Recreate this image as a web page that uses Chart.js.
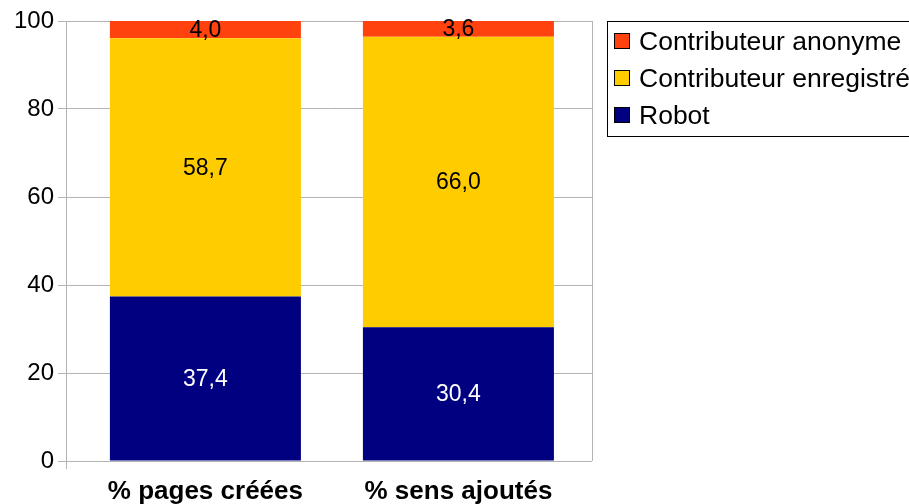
<!DOCTYPE html>
<html>
<head>
<meta charset="utf-8">
<script src="https://cdn.jsdelivr.net/npm/chart.js@4/dist/chart.umd.min.js"></script>
<style>
  html, body { margin: 0; padding: 0; background: #fff; }
  #wrap { width: 909px; height: 504px; position: relative; }
</style>
</head>
<body>
<div id="wrap"><canvas id="contribChart"></canvas></div>
<script>
const categories = ['% pages créées', '% sens ajoutés'];
const robot = [37.4, 30.4];
const enregistre = [58.7, 66.0];
const anonyme = [4.0, 3.6];
const yTicks = [0, 20, 40, 60, 80, 100];

const FONT = '"Liberation Sans", Arial, sans-serif';

// values written in the middle of each segment, french decimal comma
const segmentLabels = {
  id: 'segmentLabels',
  afterDatasetsDraw(chart) {
    const ctx = chart.ctx;
    ctx.save();
    ctx.font = '23px ' + FONT;
    ctx.textAlign = 'center';
    ctx.textBaseline = 'middle';
    chart.data.datasets.forEach((ds, i) => {
      chart.getDatasetMeta(i).data.forEach((bar, j) => {
        const top = Math.max(bar.y, chart.chartArea.top);
        const y = (top + bar.base) / 2;
        ctx.fillStyle = ds.labelColor;
        ctx.fillText(ds.data[j].toFixed(1).replace('.', ','), bar.x, y + 1);
      });
    });
    ctx.restore();
  }
};

// frame lines and the boxed legend on the right
const frameAndLegend = {
  id: 'frameAndLegend',
  afterDraw(chart) {
    const ctx = chart.ctx;
    const a = chart.chartArea;
    ctx.save();
    ctx.strokeStyle = '#b3b3b3';
    ctx.lineWidth = 1;
    ctx.beginPath();
    ctx.moveTo(Math.round(a.right) + 0.5, a.top);
    ctx.lineTo(Math.round(a.right) + 0.5, a.bottom);
    ctx.moveTo(Math.round(a.left) + 0.5, a.bottom);
    ctx.lineTo(Math.round(a.left) + 0.5, a.bottom + 8);
    ctx.stroke();

    // legend box
    ctx.strokeStyle = '#000';
    ctx.strokeRect(607.5, 21.5, 320, 115);
    const items = chart.data.datasets.slice().reverse();
    ctx.font = '26.5px ' + FONT;
    ctx.textBaseline = 'middle';
    ctx.textAlign = 'left';
    items.forEach((ds, k) => {
      const cy = 42 + k * 37;
      ctx.fillStyle = ds.backgroundColor;
      ctx.fillRect(614.5, cy - 8.5, 15, 15);
      ctx.strokeStyle = '#000';
      ctx.strokeRect(614.5, cy - 8.5, 15, 15);
      ctx.fillStyle = '#000';
      ctx.fillText(ds.label, 639, cy + 1);
    });
    ctx.restore();
  }
};

new Chart(document.getElementById('contribChart'), {
  type: 'bar',
  data: {
    labels: categories,
    datasets: [
      { label: 'Robot', data: robot, backgroundColor: '#000080', labelColor: '#fff' },
      { label: 'Contributeur enregistré', data: enregistre, backgroundColor: '#ffcc00', labelColor: '#000' },
      { label: 'Contributeur anonyme', data: anonyme, backgroundColor: '#ff420e', labelColor: '#000' }
    ]
  },
  options: {
    responsive: true,
    maintainAspectRatio: false,
    animation: false,
    datasets: { bar: { barPercentage: 0.755, categoryPercentage: 1 } },
    layout: { padding: { top: 21, right: 317, left: 0, bottom: 0 } },
    plugins: {
      legend: { display: false },
      tooltip: { enabled: false }
    },
    scales: {
      x: {
        stacked: true,
        grid: { display: false },
        border: { display: false },
        ticks: { color: '#000', padding: 7, font: { family: FONT, size: 26, weight: 'bold' } },
        // the bars sit a bit off-centre in their slots in the original
        afterBuildTicks(scale) { scale._startValue = -0.551; scale._valueRange = 2.079; },
        afterFit(scale) { scale.height = 43; }
      },
      y: {
        stacked: true,
        min: 0,
        max: 100,
        afterBuildTicks(scale) { scale.ticks = yTicks.map(v => ({ value: v })); },
        grid: { color: '#b3b3b3', tickLength: 8 },
        border: { color: '#b3b3b3' },
        ticks: { color: '#000', padding: 4, font: { family: FONT, size: 24 } },
        afterFit(scale) { scale.width = 66; }
      }
    }
  },
  plugins: [segmentLabels, frameAndLegend]
});
</script>
</body>
</html>
